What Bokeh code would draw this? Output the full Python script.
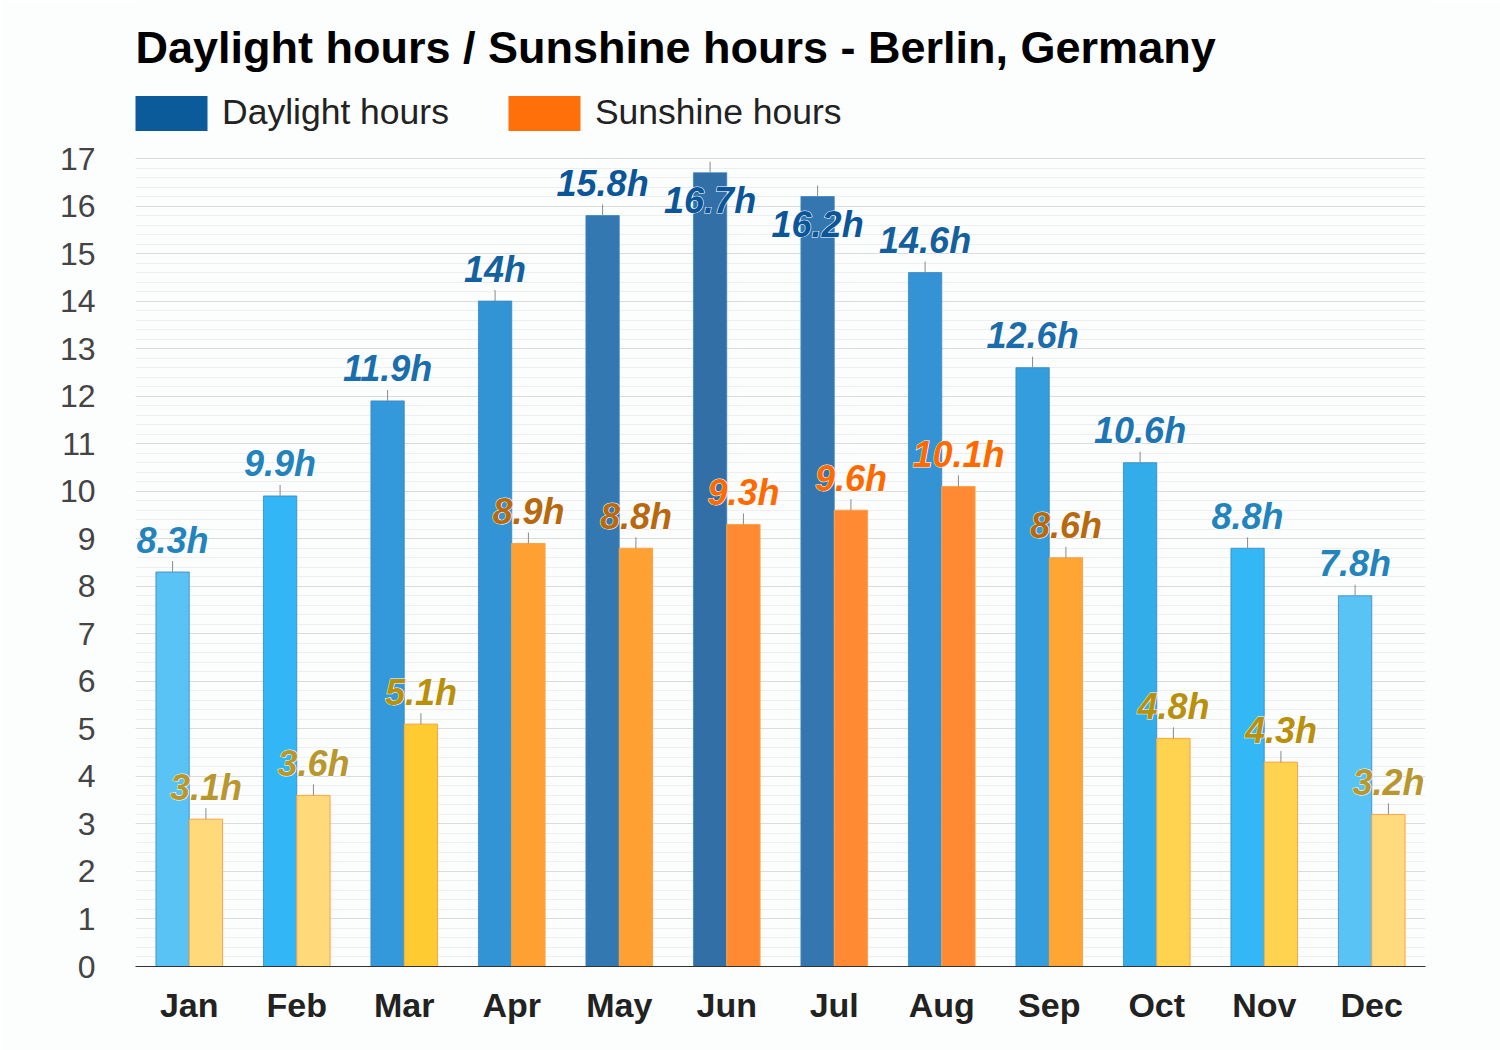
from bokeh.plotting import figure
from bokeh.models import Range1d, FixedTicker, Legend, LegendItem, ColumnDataSource, Label
from bokeh.core.properties import value
from bokeh.embed import file_html
from bokeh.resources import INLINE

months = ["Jan", "Feb", "Mar", "Apr", "May", "Jun", "Jul", "Aug", "Sep", "Oct", "Nov", "Dec"]
daylight = [8.3, 9.9, 11.9, 14.0, 15.8, 16.7, 16.2, 14.6, 12.6, 10.6, 8.8, 7.8]
sunshine = [3.1, 3.6, 5.1, 8.9, 8.8, 9.3, 9.6, 10.1, 8.6, 4.8, 4.3, 3.2]
daylight_labels = ["8.3h", "9.9h", "11.9h", "14h", "15.8h", "16.7h", "16.2h", "14.6h", "12.6h", "10.6h", "8.8h", "7.8h"]
sunshine_labels = ["3.1h", "3.6h", "5.1h", "8.9h", "8.8h", "9.3h", "9.6h", "10.1h", "8.6h", "4.8h", "4.3h", "3.2h"]
daylight_colors = ["#5ac3f6", "#33b6f5", "#3399da", "#3394d5", "#3478b2", "#336fa7", "#3476b0", "#3393d4", "#339ddd", "#33acea", "#33b7f5", "#5ac3f6"]
sunshine_colors = ["#ffd97a", "#ffd97a", "#ffcb33", "#ffa033", "#ffa033", "#ff8a33", "#ff8a33", "#ff8a33", "#ffa533", "#ffd24f", "#ffd24f", "#ffdb7e"]
daylight_label_colors = ["#2383bd", "#2383bd", "#1a6eab", "#13629f", "#0a5698", "#0a5698", "#0a5698", "#13609d", "#1a6cab", "#1d76b3", "#2383bd", "#2383bd"]
sunshine_label_colors = ["#b8972f", "#b8972f", "#b8900c", "#b8690e", "#b8690e", "#ff6a00", "#ff6a00", "#ff6a00", "#b8690e", "#b8900c", "#b8900c", "#b8972f"]
y_ticks = list(range(0, 18))
title_text = "Daylight hours / Sunshine hours - Berlin, Germany"

BG = "#fcfdfd"
BAR_W = 0.31
W, H = 1500, 1050
LEFT, RIGHT, BOTTOM = 135, 75, 84
PLOT_TOP = 158                     # pixel row of the top (17) gridline
y_max = y_ticks[-1]
frame_h = H - BOTTOM               # frame spans from canvas top to bottom border
ppu = (frame_h - PLOT_TOP) / y_max
y_top = frame_h / ppu

p = figure(width=W, height=H,
           x_range=Range1d(0, len(months)), y_range=Range1d(0, y_top),
           output_backend="svg", toolbar_location=None, title=None,
           min_border_left=LEFT, min_border_right=RIGHT, min_border_bottom=BOTTOM, min_border_top=0,
           background_fill_color=BG, border_fill_color=BG, outline_line_color=None)

centers = [i + 0.5 for i in range(len(months))]
xd = [c - BAR_W / 2 for c in centers]
xs = [c + BAR_W / 2 for c in centers]

src_d = ColumnDataSource(dict(x=xd, top=daylight, color=daylight_colors, lab=daylight_labels, lc=daylight_label_colors))
src_s = ColumnDataSource(dict(x=xs, top=sunshine, color=sunshine_colors, lab=sunshine_labels, lc=sunshine_label_colors))

p.vbar(x="x", top="top", width=BAR_W, source=src_d, fill_color="color", line_color="#3a86c0", line_alpha=0.8, line_width=1)
p.vbar(x="x", top="top", width=BAR_W, source=src_s, fill_color="color", line_color="#f7a548", line_width=1)

# small ticks above bars
tick_len = 11 / ppu
p.segment(x0=xd, x1=xd, y0=daylight, y1=[v + tick_len for v in daylight], line_color="#8a8a8a", line_width=1)
p.segment(x0=xs, x1=xs, y0=sunshine, y1=[v + tick_len for v in sunshine], line_color="#8a8a8a", line_width=1)

# labels (moved inside the bar when they would overflow the plot top)
def offsets(vals):
    return [28 if (y_max - v) * ppu < 46 else -32 for v in vals]
src_d.data["yo"] = offsets(daylight)
src_s.data["yo"] = offsets(sunshine)

for src in (src_d, src_s):
    p.text(x="x", y="top", text="lab", source=src, y_offset="yo",
           text_color="white", text_font=value("Liberation Sans"), text_font_style="bold italic",
           text_font_size="36px", text_align="center", text_baseline="alphabetic",
           text_outline_color="white")
    p.text(x="x", y="top", text="lab", source=src, y_offset="yo",
           text_color="lc", text_font=value("Liberation Sans"), text_font_style="bold italic",
           text_font_size="36px", text_align="center", text_baseline="alphabetic")

# legend
r1 = p.vbar(x=[centers[0]], top=[0], bottom=[0], width=BAR_W, fill_color="#0b5a9a", line_color=None)
r2 = p.vbar(x=[centers[0]], top=[0], bottom=[0], width=BAR_W, fill_color="#ff700a", line_color=None)
legend = Legend(items=[LegendItem(label="Daylight hours", renderers=[r1]),
                       LegendItem(label="Sunshine hours", renderers=[r2])],
                orientation="horizontal", location=(-9, frame_h - 134.5),
                glyph_width=90, glyph_height=44, label_standoff=6, spacing=50,
                label_text_font="Liberation Sans", label_text_font_size="35.5px",
                label_text_color="#222222", label_text_baseline="middle",
                border_line_color=None, background_fill_alpha=0, padding=0, margin=0)
p.add_layout(legend, "center")

p.add_layout(Label(x=0, y=frame_h - 47, x_units="screen", y_units="screen", text=title_text,
                   text_font="Liberation Sans", text_font_style="bold", text_font_size="45px",
                   text_color="#000000", text_baseline="alphabetic", text_align="left"))

# axes
p.yaxis.ticker = FixedTicker(ticks=y_ticks, minor_ticks=[i / 5 for i in range(y_max * 5 + 1)])
p.yaxis.axis_line_color = None
p.yaxis.major_tick_line_color = None
p.yaxis.minor_tick_line_color = None
p.yaxis.major_label_text_font = "Liberation Sans"
p.yaxis.major_label_text_font_size = "32px"
p.yaxis.major_label_text_color = "#444444"
p.yaxis.major_label_standoff = 34

p.xaxis.ticker = FixedTicker(ticks=centers)
p.xaxis.major_label_overrides = {c: m for c, m in zip(centers, months)}
p.xaxis.axis_line_color = "#333333"
p.xaxis.axis_line_width = 1
p.xaxis.major_tick_line_color = None
p.xaxis.minor_tick_line_color = None
p.xaxis.major_label_text_font = "Liberation Sans"
p.xaxis.major_label_text_font_style = "bold"
p.xaxis.major_label_text_font_size = "34px"
p.xaxis.major_label_text_color = "#222222"
p.xaxis.major_label_standoff = 13

p.xgrid.grid_line_color = None
p.ygrid.grid_line_color = "#dcdcdc"
p.ygrid.minor_grid_line_color = "#efeff2"

open("out.html", "w").write(file_html(p, INLINE))
